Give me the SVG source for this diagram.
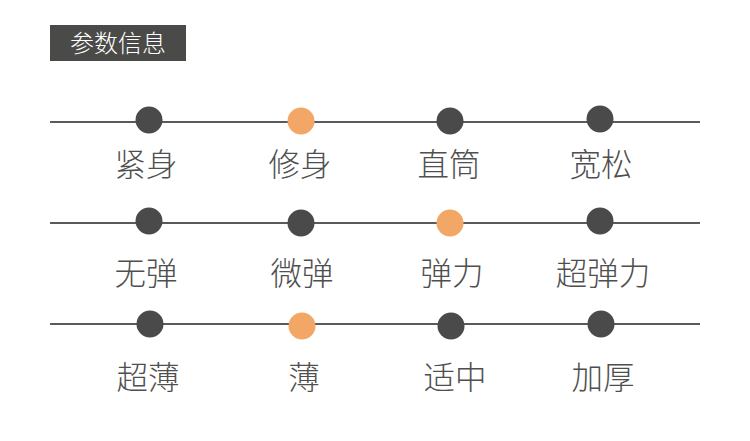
<svg xmlns="http://www.w3.org/2000/svg" width="750" height="441" viewBox="0 0 750 441">
<style>
.ln{stroke:#5a5a5a;stroke-width:2}
.d{fill:#4a4a4a}
.o{fill:#f2a766}
.t{font-family:"Noto Sans CJK SC","Liberation Sans",sans-serif;font-size:31.5px;fill:#4f4f4f;text-anchor:middle;font-weight:300}
.h{font-family:"Noto Sans CJK SC","Liberation Sans",sans-serif;font-size:24px;fill:#ffffff;text-anchor:middle;font-weight:300}
</style>
<rect width="750" height="441" fill="#ffffff"/>
<g id="header"><rect x="50" y="25" width="136" height="36" fill="#4a4a48"/><text class="h" x="118" y="51.5">参数信息</text></g>
<g id="connectors">
<line class="ln" x1="50" y1="122" x2="700" y2="122"/>
<line class="ln" x1="50" y1="223" x2="700" y2="223"/>
<line class="ln" x1="50" y1="324" x2="700" y2="324"/>
</g>
<g id="n1"><circle class="d" cx="149" cy="120" r="13.5"/><text class="t" x="146" y="176">紧身</text></g>
<g id="n2"><circle class="o" cx="301" cy="121" r="13.5"/><text class="t" x="300" y="176">修身</text></g>
<g id="n3"><circle class="d" cx="450" cy="121" r="13.5"/><text class="t" x="449" y="176">直筒</text></g>
<g id="n4"><circle class="d" cx="600" cy="119" r="13.5"/><text class="t" x="601" y="176">宽松</text></g>
<g id="n5"><circle class="d" cx="149" cy="221" r="13.5"/><text class="t" x="146" y="285">无弹</text></g>
<g id="n6"><circle class="d" cx="301" cy="223" r="13.5"/><text class="t" x="302" y="285">微弹</text></g>
<g id="n7"><circle class="o" cx="450" cy="223" r="13.5"/><text class="t" x="452" y="285">弹力</text></g>
<g id="n8"><circle class="d" cx="600" cy="221" r="13.5"/><text class="t" x="603" y="285">超弹力</text></g>
<g id="n9"><circle class="d" cx="150" cy="324" r="13.5"/><text class="t" x="148" y="389">超薄</text></g>
<g id="n10"><circle class="o" cx="302" cy="326" r="13.5"/><text class="t" x="304" y="389">薄</text></g>
<g id="n11"><circle class="d" cx="451" cy="326" r="13.5"/><text class="t" x="455" y="389">适中</text></g>
<g id="n12"><circle class="d" cx="601" cy="324" r="13.5"/><text class="t" x="603" y="389">加厚</text></g>
</svg>
